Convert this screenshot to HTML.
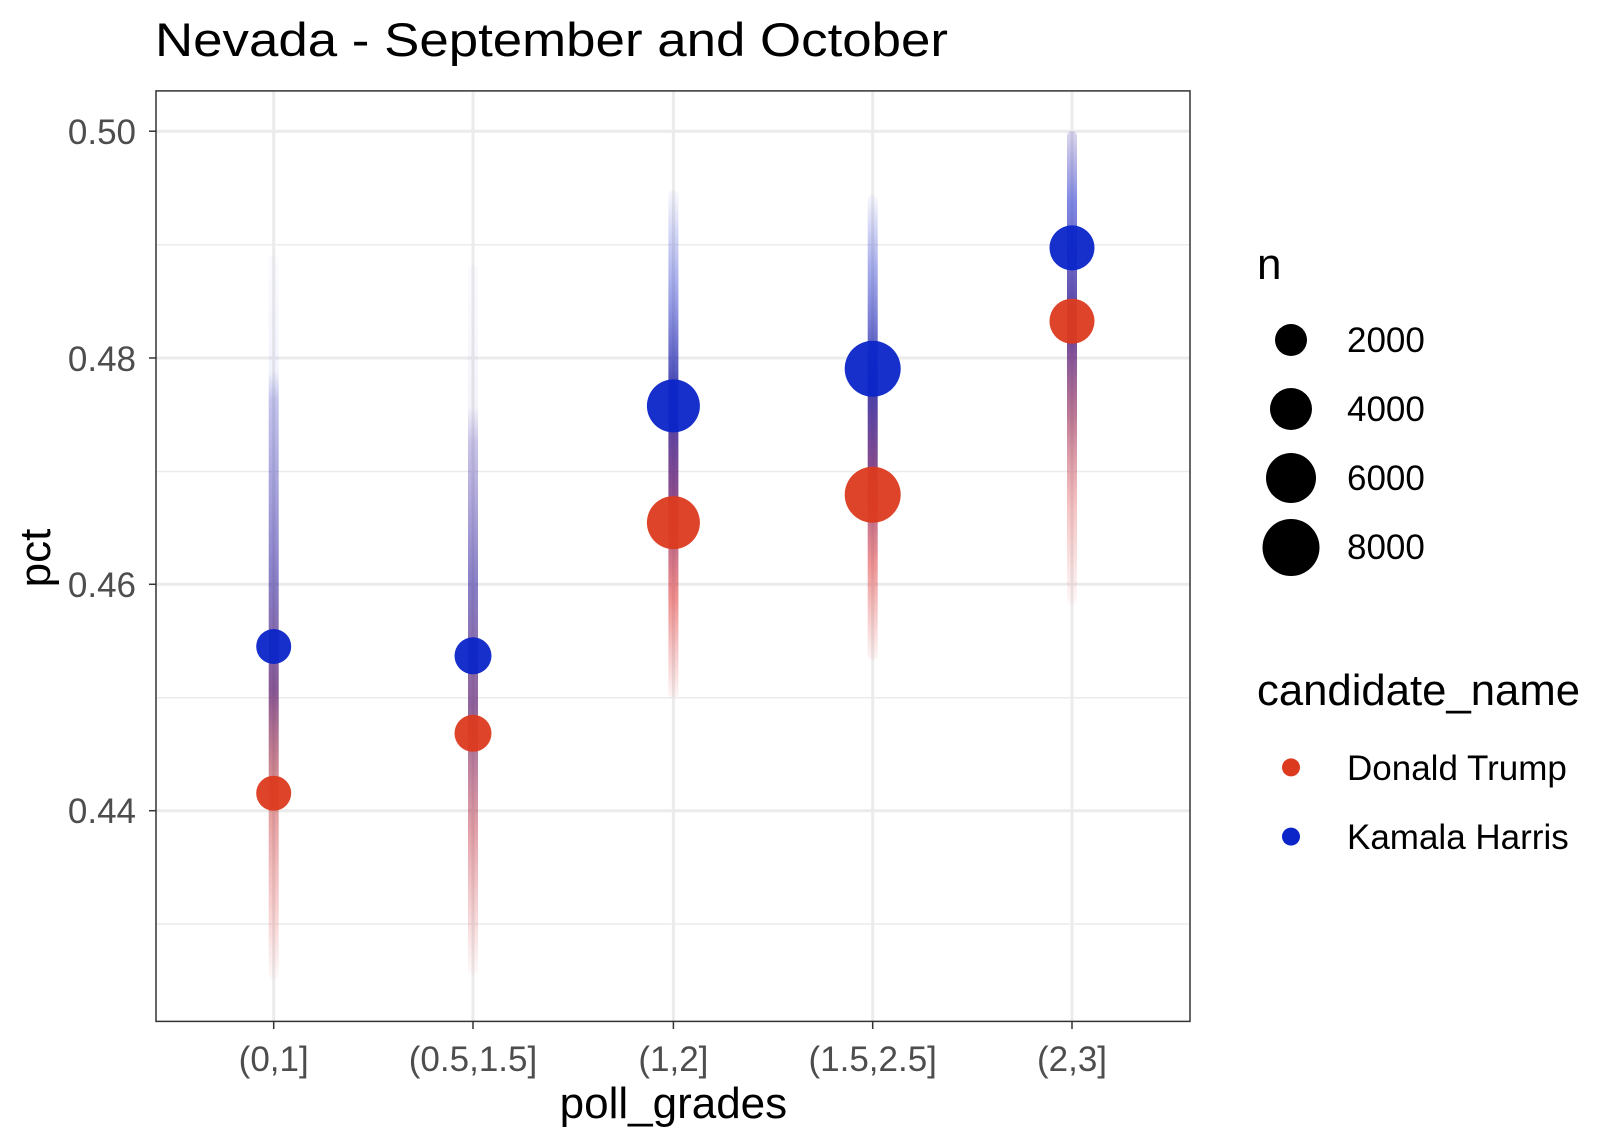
<!DOCTYPE html>
<html><head><meta charset="utf-8"><style>
html,body{margin:0;padding:0;background:#fff;}
svg{display:block;font-family:"Liberation Sans",Arial,sans-serif;}
</style></head><body>
<svg width="1618" height="1146" viewBox="0 0 1618 1146" xmlns="http://www.w3.org/2000/svg">
<defs>
<linearGradient id="g1" x1="0" y1="255" x2="0" y2="980" gradientUnits="userSpaceOnUse">
<stop offset="0" stop-color="#2a3ad0" stop-opacity="0.02"/>
<stop offset="0.16" stop-color="#2a3ad0" stop-opacity="0.06"/>
<stop offset="0.2" stop-color="#3a3ac0" stop-opacity="0.3"/>
<stop offset="0.45" stop-color="#3a2aa0" stop-opacity="0.6"/>
<stop offset="0.6" stop-color="#602070" stop-opacity="0.75"/>
<stop offset="0.75" stop-color="#c03030" stop-opacity="0.5"/>
<stop offset="0.9" stop-color="#e04040" stop-opacity="0.25"/>
<stop offset="1" stop-color="#e04040" stop-opacity="0.03"/>
</linearGradient>
<linearGradient id="g2" x1="0" y1="265" x2="0" y2="975" gradientUnits="userSpaceOnUse">
<stop offset="0" stop-color="#2a3ad0" stop-opacity="0.02"/>
<stop offset="0.2" stop-color="#4a3ab0" stop-opacity="0.06"/>
<stop offset="0.25" stop-color="#4a3ab0" stop-opacity="0.3"/>
<stop offset="0.45" stop-color="#3a2aa0" stop-opacity="0.6"/>
<stop offset="0.62" stop-color="#602070" stop-opacity="0.7"/>
<stop offset="0.8" stop-color="#c03040" stop-opacity="0.45"/>
<stop offset="1" stop-color="#e04040" stop-opacity="0.03"/>
</linearGradient>
<linearGradient id="g3" x1="0" y1="190" x2="0" y2="698" gradientUnits="userSpaceOnUse">
<stop offset="0" stop-color="#2a3ad0" stop-opacity="0.03"/>
<stop offset="0.18" stop-color="#2a3ad0" stop-opacity="0.4"/>
<stop offset="0.4" stop-color="#2020a0" stop-opacity="0.85"/>
<stop offset="0.6" stop-color="#702070" stop-opacity="0.8"/>
<stop offset="0.8" stop-color="#e03030" stop-opacity="0.55"/>
<stop offset="1" stop-color="#e04040" stop-opacity="0.05"/>
</linearGradient>
<linearGradient id="g4" x1="0" y1="195" x2="0" y2="660" gradientUnits="userSpaceOnUse">
<stop offset="0" stop-color="#2a3ad0" stop-opacity="0.03"/>
<stop offset="0.15" stop-color="#2a3ad0" stop-opacity="0.4"/>
<stop offset="0.4" stop-color="#2020a0" stop-opacity="0.85"/>
<stop offset="0.6" stop-color="#702070" stop-opacity="0.8"/>
<stop offset="0.8" stop-color="#e03030" stop-opacity="0.5"/>
<stop offset="1" stop-color="#e04040" stop-opacity="0.05"/>
</linearGradient>
<linearGradient id="g5" x1="0" y1="131" x2="0" y2="605" gradientUnits="userSpaceOnUse">
<stop offset="0" stop-color="#4a3ab0" stop-opacity="0.2"/>
<stop offset="0.15" stop-color="#2a3ad0" stop-opacity="0.6"/>
<stop offset="0.4" stop-color="#402090" stop-opacity="0.85"/>
<stop offset="0.6" stop-color="#902050" stop-opacity="0.6"/>
<stop offset="0.8" stop-color="#e04040" stop-opacity="0.3"/>
<stop offset="1" stop-color="#e04040" stop-opacity="0.03"/>
</linearGradient>
</defs>
<rect width="1618" height="1146" fill="#fff"/>
<text x="155" y="56" font-size="47" fill="#000" textLength="793" lengthAdjust="spacingAndGlyphs">Nevada - September and October</text>
<g stroke="#ebebeb" stroke-width="1.5">
<line x1="156" x2="1190" y1="244.8" y2="244.8"/>
<line x1="156" x2="1190" y1="471.5" y2="471.5"/>
<line x1="156" x2="1190" y1="697.7" y2="697.7"/>
<line x1="156" x2="1190" y1="924" y2="924"/>
</g>
<g stroke="#ebebeb" stroke-width="3">
<line x1="156" x2="1190" y1="131.2" y2="131.2"/>
<line x1="156" x2="1190" y1="358" y2="358"/>
<line x1="156" x2="1190" y1="584.3" y2="584.3"/>
<line x1="156" x2="1190" y1="810.7" y2="810.7"/>
<line y1="91" y2="1021" x1="273.7" x2="273.7"/>
<line y1="91" y2="1021" x1="473" x2="473"/>
<line y1="91" y2="1021" x1="673.4" x2="673.4"/>
<line y1="91" y2="1021" x1="872.7" x2="872.7"/>
<line y1="91" y2="1021" x1="1072" x2="1072"/>
</g>
<rect x="268.7" y="255" width="10" height="725" rx="5" fill="url(#g1)"/>
<rect x="468" y="265" width="10" height="710" rx="5" fill="url(#g2)"/>
<rect x="668.4" y="190" width="10" height="508" rx="5" fill="url(#g3)"/>
<rect x="867.7" y="195" width="10" height="465" rx="5" fill="url(#g4)"/>
<rect x="1067" y="131" width="10" height="474" rx="5" fill="url(#g5)"/>
<g fill-opacity="0.95">
<circle cx="273.7" cy="793.2" r="17.5" fill="#dc3a1e"/>
<circle cx="273.7" cy="646.5" r="17.5" fill="#0b25c8"/>
<circle cx="473" cy="733.3" r="18.5" fill="#dc3a1e"/>
<circle cx="473" cy="655.8" r="18.5" fill="#0b25c8"/>
<circle cx="673.4" cy="522.6" r="26.5" fill="#dc3a1e"/>
<circle cx="673.4" cy="405.9" r="26.5" fill="#0b25c8"/>
<circle cx="872.7" cy="494.7" r="28" fill="#dc3a1e"/>
<circle cx="872.7" cy="368.7" r="28" fill="#0b25c8"/>
<circle cx="1072" cy="321.2" r="22.5" fill="#dc3a1e"/>
<circle cx="1072" cy="247.9" r="22.5" fill="#0b25c8"/>
</g>
<rect x="156" y="90.9" width="1034" height="930.5" fill="none" stroke="#333" stroke-width="1.5"/>
<g stroke="#333" stroke-width="1.5">
<line x1="149" x2="156" y1="131.2" y2="131.2"/><line x1="149" x2="156" y1="358" y2="358"/>
<line x1="149" x2="156" y1="584.3" y2="584.3"/><line x1="149" x2="156" y1="810.7" y2="810.7"/>
<line y1="1022" y2="1029" x1="273.7" x2="273.7"/><line y1="1022" y2="1029" x1="473" x2="473"/>
<line y1="1022" y2="1029" x1="673.4" x2="673.4"/><line y1="1022" y2="1029" x1="872.7" x2="872.7"/>
<line y1="1022" y2="1029" x1="1072" x2="1072"/>
</g>
<g font-size="35" fill="#4d4d4d" text-anchor="end">
<text x="136" y="144">0.50</text><text x="136" y="371">0.48</text>
<text x="136" y="597">0.46</text><text x="136" y="823">0.44</text>
</g>
<g font-size="35" fill="#4d4d4d" text-anchor="middle">
<text x="273.7" y="1071">(0,1]</text><text x="473" y="1071">(0.5,1.5]</text>
<text x="673.4" y="1071">(1,2]</text><text x="872.7" y="1071">(1.5,2.5]</text>
<text x="1072" y="1071">(2,3]</text>
</g>
<text x="673.4" y="1118" font-size="44" text-anchor="middle" fill="#000">poll_grades</text>
<text transform="translate(50,558) rotate(-90)" font-size="44" text-anchor="middle" fill="#000">pct</text>
<text x="1257" y="279" font-size="44">n</text>
<circle cx="1291" cy="340" r="16" fill="#000"/>
<circle cx="1291" cy="409" r="21" fill="#000"/>
<circle cx="1291" cy="478" r="25" fill="#000"/>
<circle cx="1291" cy="547.5" r="28.5" fill="#000"/>
<g font-size="35" fill="#000">
<text x="1347" y="352">2000</text><text x="1347" y="421">4000</text>
<text x="1347" y="490">6000</text><text x="1347" y="559">8000</text>
</g>
<text x="1257" y="705" font-size="44" textLength="323" lengthAdjust="spacingAndGlyphs">candidate_name</text>
<circle cx="1291" cy="767.4" r="9" fill="#dc3a1e"/>
<circle cx="1291" cy="836.6" r="9" fill="#0b25c8"/>
<g font-size="35" fill="#000">
<text x="1347" y="780">Donald Trump</text><text x="1347" y="849">Kamala Harris</text>
</g>
</svg>
</body></html>
